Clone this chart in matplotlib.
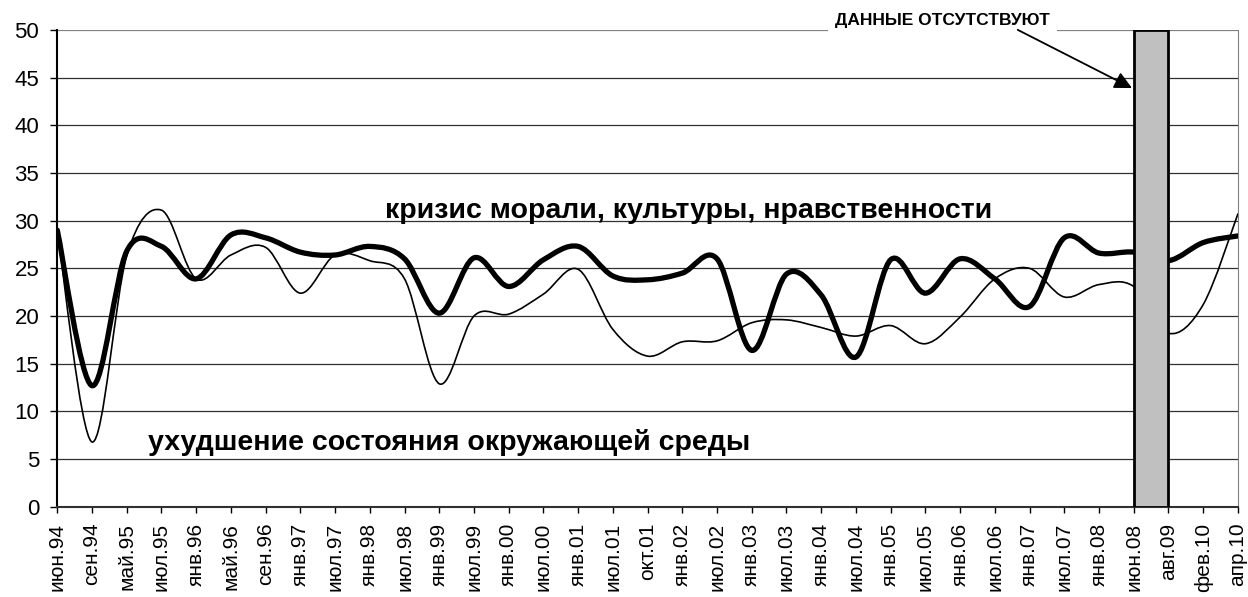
import numpy as np
import matplotlib
matplotlib.use('Agg')
import matplotlib.pyplot as plt
from matplotlib.path import Path
from matplotlib.patches import PathPatch

plt.rcParams['font.family'] = ['Liberation Sans', 'DejaVu Sans']

labels = ['июн.94', 'сен.94', 'май.95', 'июл.95', 'янв.96', 'май.96', 'сен.96',
          'янв.97', 'июл.97', 'янв.98', 'июл.98', 'янв.99', 'июл.99', 'янв.00',
          'июл.00', 'янв.01', 'июл.01', 'окт.01', 'янв.02', 'июл.02', 'янв.03',
          'июл.03', 'янв.04', 'июл.04', 'янв.05', 'июл.05', 'янв.06', 'июл.06',
          'янв.07', 'июл.07', 'янв.08', 'июн.08', 'авг.09', 'фев.10', 'апр.10']

# кризис морали, культуры, нравственности (толстая линия)
moral = [29.0, 12.7, 26.8, 27.3, 23.9, 28.5, 28.2, 26.7, 26.4, 27.3, 26.0,
         20.3, 26.1, 23.1, 25.9, 27.3, 24.2, 23.8, 24.5, 26.0, 16.4, 24.4,
         22.2, 15.7, 25.9, 22.4, 26.0, 23.9, 21.0, 28.2, 26.6, 26.7, 25.8,
         27.7, 28.4]

# ухудшение состояния окружающей среды (тонкая линия)
ecol = [29.0, 6.8, 26.3, 31.1, 23.9, 26.4, 27.2, 22.4, 26.4, 25.8, 23.9,
        12.9, 20.0, 20.2, 22.3, 24.9, 18.6, 15.8, 17.3, 17.4, 19.3, 19.6,
        18.8, 17.9, 19.0, 17.1, 19.9, 23.9, 25.0, 22.0, 23.3, 23.1, 18.2,
        21.2, 30.7]

gap_from = 'июн.08'
gap_to = 'авг.09'


def smooth_path(x, y):
    # сглаженная линия как в Excel: кривые Безье по точкам
    x = np.asarray(x, float)
    y = np.asarray(y, float)
    pts = np.column_stack([x, y])
    n = len(pts)
    verts = [pts[0]]
    codes = [Path.MOVETO]
    for i in range(n - 1):
        p0 = pts[i - 1] if i > 0 else pts[i]
        p1 = pts[i]
        p2 = pts[i + 1]
        p3 = pts[i + 2] if i + 2 < n else pts[i + 1]
        c1 = p1 + (p2 - p0) / 6.0
        c2 = p2 - (p3 - p1) / 6.0
        verts += [c1, c2, p2]
        codes += [Path.CURVE4] * 3
    return Path(verts, codes)


fig = plt.figure(figsize=(12.48, 5.97), dpi=100)
ax = fig.add_axes([0.0459, 0.151, 0.9460, 0.799])

xs = np.arange(len(labels))
ax.add_patch(PathPatch(smooth_path(xs, ecol), fill=False, edgecolor='black',
                       lw=1.2, zorder=3, capstyle='round', joinstyle='round'))
ax.add_patch(PathPatch(smooth_path(xs, moral), fill=False, edgecolor='black',
                       lw=3.8, zorder=4, capstyle='round', joinstyle='round'))

i0 = labels.index(gap_from)
i1 = labels.index(gap_to)
ax.bar((i0 + i1) / 2, 50, width=i1 - i0, bottom=0, color='#C0C0C0',
       edgecolor='black', linewidth=2, zorder=5)

ax.set_xlim(0, len(labels) - 1)
ax.set_ylim(0, 50)
ax.set_yticks(np.arange(0, 51, 5))
ax.set_xticks(xs)
ax.set_xticklabels(labels, rotation=90, fontsize=15)
ax.tick_params(axis='y', labelsize=16, length=5, direction='out', width=1,
               pad=8)
ax.tick_params(axis='x', length=4.5, direction='out', width=1, pad=7)
ax.yaxis.grid(True, color='#303030', linewidth=0.9, zorder=0)
ax.set_axisbelow(True)
ax.get_ygridlines()[-1].set_color('#808080')
ax.get_ygridlines()[-1].set_linewidth(1.6)
ax.spines['top'].set_visible(False)
ax.spines['right'].set_color('#808080')
ax.spines['left'].set_color('black')
ax.spines['left'].set_linewidth(1.5)
ax.spines['bottom'].set_color('#303030')
ax.spines['bottom'].set_linewidth(1.5)

ax.text(18.18, 31.0, 'кризис морали, культуры, нравственности',
        fontsize=20.5, fontweight='bold', ha='center', va='center', zorder=6)
ax.text(11.29, 6.7, 'ухудшение состояния окружающей среды',
        fontsize=20.5, fontweight='bold', ha='center', va='center', zorder=6)

ax.text(25.5, 51.0, 'ДАННЫЕ ОТСУТСТВУЮТ', fontsize=12.5, fontweight='bold',
        ha='center', va='center', clip_on=False, zorder=7,
        bbox=dict(boxstyle='square,pad=0.4', fc='white', ec='none'))
ax.annotate('', xy=(30.95, 43.9), xytext=(27.66, 50.0),
            arrowprops=dict(arrowstyle='-|>', color='black', lw=1.3,
                            mutation_scale=26, shrinkA=0, shrinkB=0),
            annotation_clip=False, zorder=8)

fig.savefig('out.png', dpi=100)
